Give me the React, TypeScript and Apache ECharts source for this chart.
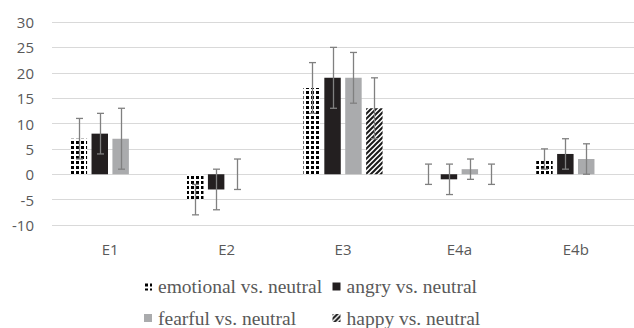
import React, { useEffect, useRef } from "react";
import * as echarts from "echarts";

// Categories and series values
const categories = ["E1", "E2", "E3", "E4a", "E4b"];
const seriesNames = [
  "emotional vs. neutral",
  "angry vs. neutral",
  "fearful vs. neutral",
  "happy vs. neutral",
];
const emotionalValues = [7, -5, 17, 0, 3];
const angryValues = [8, -3, 19, -1, 4];
const fearfulValues = [7, 0, 19, 1, 3];
const happyValues = [0, 0, 13, 0, 0];

// Half-length of each error bar (null = none drawn)
const emotionalErrors: (number | null)[] = [4, 3, 5, 2, 2];
const angryErrors: (number | null)[] = [4, 4, 6, 3, 3];
const fearfulErrors: (number | null)[] = [6, 3, 5, 2, 3];
const happyErrors: (number | null)[] = [null, null, 6, 2, null];

const yTicks = { min: -10, max: 30, interval: 5 };

const BAR_GAP = 0.27;
const CAT_GAP = 0.32;

function dotPattern() {
  const c = document.createElement("canvas");
  c.width = 5;
  c.height = 5;
  const ctx = c.getContext("2d")!;
  ctx.fillStyle = "#ffffff";
  ctx.fillRect(0, 0, 5, 5);
  ctx.fillStyle = "#000000";
  ctx.fillRect(1, 1, 3, 3);
  return c;
}

function stripePattern() {
  const s = 5;
  const c = document.createElement("canvas");
  c.width = s;
  c.height = s;
  const ctx = c.getContext("2d")!;
  ctx.fillStyle = "#ffffff";
  ctx.fillRect(0, 0, s, s);
  ctx.strokeStyle = "#1a1a1a";
  ctx.lineWidth = 2;
  ctx.beginPath();
  ctx.moveTo(-1, s + 1);
  ctx.lineTo(s + 1, -1);
  ctx.moveTo(-1, 1);
  ctx.lineTo(1, -1);
  ctx.moveTo(s - 1, s + 1);
  ctx.lineTo(s + 1, s - 1);
  ctx.stroke();
  return c;
}

export default function App() {
  const ref = useRef<HTMLDivElement>(null);

  useEffect(() => {
    document.body.style.margin = "0";
    if (!ref.current) return;
    const chart = echarts.init(ref.current, undefined, { renderer: "svg" });

    const dots = dotPattern();
    const stripes = stripePattern();
    const colors: any[] = [
      { image: dots, repeat: "repeat", imageWidth: 5, imageHeight: 5 },
      "#231f20",
      "#aaabad",
      { image: stripes, repeat: "repeat", imageWidth: 5, imageHeight: 5 },
    ];
    const values = [emotionalValues, angryValues, fearfulValues, happyValues];
    const errors = [emotionalErrors, angryErrors, fearfulErrors, happyErrors];

    const errorData: number[][] = [];
    errors.forEach((errs, si) => {
      errs.forEach((e, ci) => {
        if (e != null) errorData.push([ci, si, values[si][ci], e]);
      });
    });

    const barSeries = seriesNames.map((name, i) => ({
      name,
      type: "bar" as const,
      data: values[i],
      barGap: `${BAR_GAP * 100}%`,
      barCategoryGap: `${CAT_GAP * 100}%`,
      itemStyle: { color: colors[i] },
      z: 2,
    }));

    const legendPos = [
      { left: 144, top: 276.5 },
      { left: 332.5, top: 276.5 },
      { left: 144, top: 308 },
      { left: 332.5, top: 308 },
    ];

    chart.setOption({
      animation: false,
      grid: { left: 52, right: -4, top: 22, bottom: 103 },
      legend: seriesNames.map((name, i) => ({
        data: [name],
        left: legendPos[i].left,
        top: legendPos[i].top,
        padding: 0,
        itemWidth: 8,
        itemHeight: 8,
        icon: "rect",
        selectedMode: false,
        textStyle: {
          fontFamily: "'Liberation Serif', 'Times New Roman', serif",
          fontSize: 19.5,
          lineHeight: 19.5,
          color: "#595959",
          padding: [0, 0, 0, 1],
        },
      })),
      xAxis: {
        type: "category",
        data: categories,
        position: "bottom",
        axisLine: { show: false },
        axisTick: { show: false },
        axisLabel: {
          margin: 16,
          fontFamily: "'Open Sans', sans-serif",
          fontSize: 15,
          color: "#595959",
        },
      },
      yAxis: {
        type: "value",
        min: yTicks.min,
        max: yTicks.max,
        interval: yTicks.interval,
        axisLine: { show: false },
        axisTick: { show: false },
        splitLine: { lineStyle: { color: "#d9d9d9", width: 1 } },
        axisLabel: {
          margin: 18,
          fontFamily: "'Open Sans', sans-serif",
          fontSize: 15,
          color: "#595959",
        },
      },
      series: [
        ...barSeries,
        {
          type: "custom",
          name: "errors",
          z: 5,
          silent: true,
          data: errorData,
          encode: { x: 0, y: 2 },
          renderItem: (_params: any, api: any) => {
            const ci = api.value(0);
            const si = api.value(1);
            const v = api.value(2);
            const e = api.value(3);
            const band = api.size([1, 0])[0];
            const groupW = band * (1 - CAT_GAP);
            const bw = groupW / (4 + 3 * BAR_GAP);
            const cx =
              api.coord([ci, 0])[0] - groupW / 2 + si * bw * (1 + BAR_GAP) + bw / 2;
            const yTop = api.coord([ci, v + e])[1];
            const yBot = api.coord([ci, v - e])[1];
            const x = Math.round(cx) + 0.5;
            const cap = 3.5;
            const style = { stroke: "#808080", lineWidth: 1.3 };
            return {
              type: "group",
              children: [
                { type: "line", shape: { x1: x, y1: yTop, x2: x, y2: yBot }, style },
                { type: "line", shape: { x1: x - cap, y1: yTop, x2: x + cap, y2: yTop }, style },
                { type: "line", shape: { x1: x - cap, y1: yBot, x2: x + cap, y2: yBot }, style },
              ],
            };
          },
        },
      ],
    });

    return () => chart.dispose();
  }, []);

  return <div ref={ref} style={{ width: 634, height: 328 }} />;
}
